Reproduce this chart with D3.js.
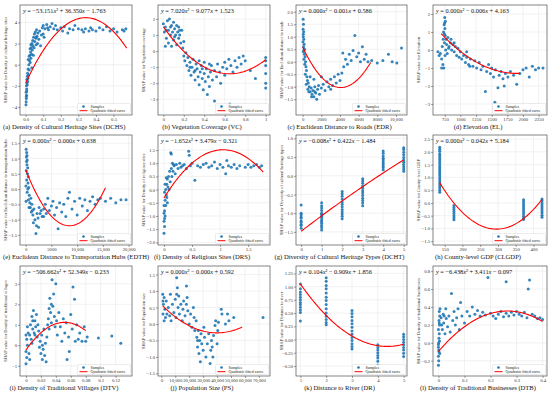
<!DOCTYPE html>
<html>
<head>
<meta charset="utf-8">
<script src="https://cdn.jsdelivr.net/npm/d3@7"></script>
<style>body{margin:0;background:#fff}</style>
</head>
<body>
<svg id="chart" width="550" height="395"></svg>
<script>
// ---------- data ---------- //

var captions = [
  "(a) Density of Cultural Heritage Sites (DCHS)", "(b) Vegetation Coverage (VC)",
  "(c) Euclidean Distance to Roads (EDR)", "(d) Elevation (EL)",
  "(e) Euclidean Distance to Transportation Hubs (EDTH)", "(f) Density of Religious Sites (DRS)",
  "(g) Diversity of Cultural Heritage Types (DCHT)", "(h) County-level GDP (CLGDP)",
  "(i) Density of Traditional Villages (DTV)", "(j) Population Size (PS)",
  "(k) Distance to River (DR)", "(l) Density of Traditional Businesses (DTB)"
];

var yTitles = [
  "SHAP value for Density of cultural heritage sites", "SHAP value for Vegetation coverage",
  "SHAP value for Euclidean distance to roads", "SHAP value for Elevation",
  "SHAP value for Euclidean distance to transportation hubs", "SHAP value for Density of religious sites",
  "SHAP value for Diversity of cultural heritage types", "SHAP value for County-level GDP",
  "SHAP value for Density of traditional villages", "SHAP value for Population size",
  "SHAP value for Distance to river", "SHAP value for Density of traditional businesses"
];

var equations = [
  "y = −53.151x² + 36.350x − 1.763", "y = 7.020x² − 9.077x + 1.523",
  "y = 0.000x² − 0.001x + 0.586", "y = 0.000x² − 0.006x + 4.163",
  "y = 0.000x² − 0.000x + 0.638", "y = −1.652x² + 3.479x − 0.321",
  "y = −0.008x² + 0.422x − 1.484", "y = 0.000x² − 0.042x + 5.184",
  "y = −506.662x² + 52.349x − 0.233", "y = 0.000x² − 0.000x + 0.592",
  "y = 0.104x² − 0.909x + 1.856", "y = −6.438x² + 3.411x − 0.097"
];

// fitted quadratic coefficients [a, b, c] (unrounded ones estimated from the drawn curves)
var coefs = [
  [-53.151, 36.350, -1.763], [7.020, -9.077, 1.523],
  [9.7e-8, -7.92e-4, 0.586], [1.513e-6, -5.75e-3, 4.163],
  [2.544e-8, -4.325e-4, 0.638], [-1.652, 3.479, -0.321],
  [-0.008, 0.422, -1.484], [7.1e-5, -0.042, 5.184],
  [-506.662, 52.349, -0.233], [5.39e-10, -4.31e-5, 0.592],
  [0.104, -0.909, 1.856], [-6.438, 3.411, -0.097]
];
var curveRanges = [
  [0, 0.575], [0, 1], [0, 7300], [690, 1950], [0, 15500], [0, 1.77],
  [0, 5], [136, 424], [0, 0.08], [1000, 58000], [1, 5], [0, 0.4]
];

var xDomains = [
  [-0.032, 0.605], [-0.052, 1.042], [-720, 11190], [562, 2384],
  [-1100, 20650], [-0.107, 1.89], [-0.25, 5.16], [117, 438],
  [-0.008, 0.142], [-2400, 78000], [0.83, 5.13], [-0.021, 0.417]
];
var yDomains = [
  [-4.76, 5.65], [-3.98, 2.875], [-2.13, 2.27], [-3.61, 2.5],
  [-1.83, 1.77], [-2.1, 2.07], [-1.85, 1.09], [-1.65, 2.66],
  [-1.5, 3.87], [-1.58, 1.76], [-0.69, 1.39], [-0.37, 0.857]
];

var xTickVals = [
  [0, 0.1, 0.2, 0.3, 0.4, 0.5], [0, 0.2, 0.4, 0.6, 0.8, 1],
  [0, 2000, 4000, 6000, 8000, 10000], [750, 1000, 1250, 1500, 1750, 2000, 2250],
  [0, 5000, 10000, 15000, 20000], [0, 0.5, 1, 1.5],
  [0, 1, 2, 3, 4, 5], [150, 200, 250, 300, 350, 400],
  [0, 0.02, 0.04, 0.06, 0.08, 0.1, 0.12], [0, 10000, 20000, 30000, 40000, 50000, 60000, 70000],
  [1, 2, 3, 4, 5], [0, 0.1, 0.2, 0.3, 0.4]
];
var xTickLabels = [
  ["0.0", "0.1", "0.2", "0.3", "0.4", "0.5"], ["0", "0.2", "0.4", "0.6", "0.8", "1"],
  ["0", "2000", "4000", "6000", "8000", "10,000"], ["750", "1000", "1250", "1500", "1750", "2000", "2250"],
  ["0", "5000", "10,000", "15,000", "20,000"], ["0", "0.5", "1", "1.5"],
  ["0", "1", "2", "3", "4", "5"], ["150", "200", "250", "300", "350", "400"],
  ["0", "0.02", "0.04", "0.06", "0.08", "0.1", "0.12"],
  ["0", "10,000", "20,000", "30,000", "40,000", "50,000", "60,000", "70,000"],
  ["1", "2", "3", "4", "5"], ["0", "0.1", "0.2", "0.3", "0.4"]
];
var yTickVals = [
  [-4, -2, 0, 2, 4], [-3, -2, -1, 0, 1, 2],
  [-1.5, -1, -0.5, 0, 0.5, 1, 1.5, 2], [-3, -2, -1, 0, 1, 2],
  [-1.5, -1, -0.5, 0, 0.5, 1, 1.5], [-2, -1.5, -1, -0.5, 0, 0.5, 1, 1.5],
  [-1.5, -1, -0.5, 0, 0.5, 1], [-1.5, -1, -0.5, 0, 0.5, 1, 1.5, 2, 2.5],
  [-1, 0, 1, 2, 3], [-1.5, -1, -0.5, 0, 0.5, 1, 1.5],
  [-0.5, -0.25, 0, 0.25, 0.5, 0.75, 1, 1.25], [-0.2, 0, 0.2, 0.4, 0.6, 0.8]
];
var yTickLabels = [
  ["−4", "−2", "0", "2", "4"], ["−3", "−2", "−1", "0", "1", "2"],
  ["−1.5", "−1.0", "−0.5", "0.0", "0.5", "1.0", "1.5", "2.0"], ["−3", "−2", "−1", "0", "1", "2"],
  ["−1.5", "−1.0", "−0.5", "0.0", "0.5", "1.0", "1.5"], ["−2.0", "−1.5", "−1.0", "−0.5", "0.0", "0.5", "1.0", "1.5"],
  ["−1.5", "−1.0", "−0.5", "0.0", "0.5", "1.0"], ["−1.5", "−1.0", "−0.5", "0.0", "0.5", "1.0", "1.5", "2.0", "2.5"],
  ["−1", "0", "1", "2", "3"], ["−1.5", "−1.0", "−0.5", "0.0", "0.5", "1.0", "1.5"],
  ["−0.50", "−0.25", "0.00", "0.25", "0.50", "0.75", "1.00", "1.25"], ["−0.2", "0.0", "0.2", "0.4", "0.6", "0.8"]
];

// samples [x, y]
var pointsA = [[0.002,-3.8],[0.003,-3.5],[0.004,-3.2],[0.005,-2.9],[0.003,-2.6],[0.006,-2.3],[0.005,-2.0],[0.008,-1.7],[0.007,-1.4],[0.01,-1.1],[0.012,-1.6],[0.011,-0.8],[0.014,-0.4],[0.016,-1.0],[0.018,0.0],[0.02,-0.5],[0.022,0.4],[0.024,0.9],[0.026,0.2],[0.028,1.2],[0.03,0.6],[0.032,1.6],[0.034,1.0],[0.036,2.0],[0.038,1.4],[0.04,2.3],[0.042,1.8],[0.045,2.6],[0.048,1.6],[0.05,2.9],[0.052,2.2],[0.055,3.1],[0.058,2.5],[0.06,1.9],[0.062,3.3],[0.065,2.7],[0.068,2.0],[0.07,3.0],[0.075,2.4],[0.08,3.2],[0.085,1.8],[0.09,2.8],[0.095,3.5],[0.1,3.7],[0.105,2.6],[0.11,3.4],[0.12,3.8],[0.125,3.5],[0.13,3.3],[0.14,3.6],[0.15,3.9],[0.16,3.4],[0.17,3.7],[0.18,3.3],[0.2,3.5],[0.21,3.2],[0.22,3.6],[0.24,3.0],[0.25,3.4],[0.27,3.3],[0.28,3.7],[0.3,3.4],[0.32,3.3],[0.33,3.1],[0.34,3.4],[0.36,3.2],[0.37,3.5],[0.38,3.3],[0.4,3.2],[0.42,3.5],[0.44,3.3],[0.46,3.6],[0.48,3.2],[0.5,3.4],[0.52,3.1],[0.55,3.3],[0.56,3.2],[0.57,3.4],[0.1,2.9],[0.035,-0.3],[0.015,0.5],[0.025,1.5],[0.004,-3.0],[0.006,-2.5],[0.009,-1.9],[0.013,-1.3],[0.02,0.8],[0.03,1.9],[0.044,0.9],[0.06,2.6]];
var pointsB = [[0.0,1.7],[0.01,1.2],[0.02,0.3],[0.02,1.5],[0.03,0.8],[0.04,1.9],[0.05,1.3],[0.05,0.5],[0.06,2.0],[0.07,1.0],[0.08,1.6],[0.08,0.3],[0.09,1.2],[0.1,1.8],[0.1,0.7],[0.11,1.4],[0.12,1.0],[0.13,1.6],[0.13,0.4],[0.14,1.2],[0.15,0.8],[0.15,1.5],[0.16,1.0],[0.17,0.5],[0.18,1.3],[0.19,0.2],[0.2,0.6],[0.2,-0.3],[0.21,-0.6],[0.22,-0.1],[0.23,-0.9],[0.24,-0.4],[0.25,-1.2],[0.26,-0.7],[0.27,-1.5],[0.28,-1.0],[0.29,-0.5],[0.3,-1.3],[0.31,-1.8],[0.32,-0.8],[0.33,-1.1],[0.34,-1.6],[0.35,-2.1],[0.36,-1.3],[0.37,-0.9],[0.38,-1.7],[0.39,-2.4],[0.4,-1.4],[0.41,-1.9],[0.42,-1.1],[0.43,-2.7],[0.44,-1.6],[0.45,-2.2],[0.46,-1.3],[0.47,-0.9],[0.48,-1.8],[0.5,-1.2],[0.5,-3.1],[0.52,-1.6],[0.53,-0.8],[0.55,-1.3],[0.56,-2.0],[0.58,-1.0],[0.6,-0.7],[0.6,-1.5],[0.62,-1.1],[0.64,-0.5],[0.65,-3.3],[0.66,-0.9],[0.68,-1.3],[0.7,-0.6],[0.72,-1.0],[0.74,-0.4],[0.76,-0.8],[0.78,-0.3],[0.8,-0.6],[0.85,-1.2],[0.9,-1.7],[1.0,-0.4],[1.0,-0.6],[1.0,-0.9],[1.0,-1.4],[1.0,-2.0],[1.0,-2.3],[0.35,-0.6],[0.4,-0.7],[0.45,-0.8],[0.03,1.3],[0.07,1.5],[0.11,0.9],[0.16,1.3],[0.26,-1.0],[0.31,-1.2],[0.38,-1.1]];
var pointsC = [[50,1.7],[80,1.5],[40,1.3],[100,1.2],[60,1.0],[120,0.9],[30,0.8],[150,0.7],[90,0.6],[200,0.5],[70,0.4],[180,0.3],[250,0.2],[130,0.1],[300,0.0],[220,-0.1],[350,-0.2],[400,-0.35],[280,-0.5],[450,-0.6],[500,-0.75],[380,-0.9],[600,-0.85],[700,-1.0],[550,-1.1],[800,-1.2],[900,-1.05],[1000,-1.3],[1100,-1.15],[1200,-1.4],[1300,-1.0],[1400,-1.25],[1500,-1.5],[1600,-1.1],[1700,-0.95],[1800,-1.3],[2000,-1.05],[2200,-0.9],[2400,-1.15],[2600,-0.8],[2800,-1.0],[3000,-0.7],[3200,-0.95],[3400,-0.6],[3600,-0.85],[3800,-0.5],[4000,-0.75],[4200,-0.45],[4400,-0.2],[4600,0.1],[4800,-0.1],[5000,0.3],[5200,0.05],[5400,0.45],[5600,1.05],[5800,0.2],[6000,0.35],[6200,0.0],[6400,0.6],[6600,0.1],[6800,0.3],[7000,0.0],[7400,0.05],[8000,-0.05],[8600,0.05],[9200,0.3],[9600,0.0],[10100,-0.05],[10600,0.55],[2000,-0.6],[3000,-1.1],[4300,0.35],[1200,-0.7],[800,-0.6],[60,1.1],[110,0.45],[650,-1.2],[950,-1.4],[1300,-1.2]];
var pointsD = [[640,-0.1],[660,-0.3],[680,-0.2],[700,-0.5],[710,0.2],[720,-0.8],[725,0.6],[730,1.0],[735,-1.0],[740,1.4],[745,0.4],[750,1.8],[752,1.2],[755,-0.3],[758,0.8],[760,1.6],[765,0.0],[770,0.6],[780,0.3],[790,-0.2],[800,0.7],[820,0.2],[840,0.4],[860,0.0],[880,0.3],[900,-0.1],[920,0.2],[940,-0.3],[960,0.1],[980,-0.4],[1000,-0.1],[1020,-0.5],[1050,-0.3],[1080,-0.7],[1100,-0.4],[1130,-0.8],[1160,-0.5],[1200,-0.9],[1230,-0.6],[1260,-1.0],[1300,-0.7],[1330,-1.1],[1360,-0.9],[1400,-2.3],[1420,-1.2],[1450,-0.8],[1480,-1.3],[1500,-1.0],[1530,-1.5],[1550,-2.9],[1560,-1.1],[1600,-2.1],[1620,-1.4],[1650,-1.2],[1680,-1.6],[1700,-2.0],[1720,-1.3],[1760,-1.5],[1800,-1.2],[1850,-1.4],[1900,-1.9],[1950,-1.3],[2000,-1.1],[2050,-1.0],[2100,-1.5],[2150,-0.9],[2200,-1.1],[2250,-1.0],[2320,-1.0],[850,0.6],[1100,-0.1],[700,-1.0],[748,1.5],[742,0.9],[810,0.1],[900,0.4],[1150,-0.9]];
var pointsE = [[100,1.3],[200,1.2],[150,1.05],[300,0.95],[250,0.8],[400,0.7],[120,0.6],[350,0.5],[500,0.4],[200,0.3],[450,0.2],[600,0.05],[300,-0.1],[700,-0.2],[550,-0.35],[800,-0.45],[900,-0.6],[1000,-0.3],[1100,-0.75],[1200,-0.5],[1400,-0.85],[1600,-0.65],[1800,-1.0],[2000,-1.45],[2100,-1.2],[2200,-0.8],[2400,-0.95],[2600,-0.6],[2800,-0.8],[3000,-0.7],[3200,-0.9],[3500,-0.65],[3800,-0.5],[4000,-0.8],[4300,-0.3],[4600,-0.7],[5000,-0.55],[5300,-0.4],[5600,-0.85],[6000,-0.6],[6300,-1.3],[6600,-0.45],[7000,-0.75],[7400,-0.5],[7800,-0.9],[8200,-0.3],[8500,-0.1],[9000,-0.65],[9500,-0.4],[10000,-0.85],[10500,-0.3],[11000,-0.55],[11500,-0.35],[12000,-0.7],[12500,-0.4],[13000,-0.25],[13500,-0.5],[14000,-0.35],[14500,-0.3],[15500,-0.4],[16500,-0.3],[17500,-0.45],[18500,-0.35],[19500,-0.35],[1500,-1.1],[2500,-1.25],[3500,-0.9],[50,0.1],[80,-0.4],[180,0.9],[260,1.1],[420,0.0],[650,-0.6],[1300,-0.7]];
var pointsF = [[0.0,-1.65],[0.01,-1.4],[0.0,-1.2],[0.02,-1.0],[0.01,-0.8],[0.03,-0.6],[0.02,-0.4],[0.04,-0.2],[0.03,0.0],[0.05,-0.3],[0.05,0.2],[0.06,0.4],[0.07,0.1],[0.08,0.5],[0.09,0.0],[0.1,0.7],[0.11,0.3],[0.12,1.4],[0.13,0.8],[0.14,0.5],[0.15,1.0],[0.16,0.7],[0.18,0.9],[0.2,0.6],[0.22,0.95],[0.25,0.8],[0.28,1.0],[0.3,0.85],[0.33,0.9],[0.36,0.95],[0.4,0.8],[0.44,1.45],[0.45,1.3],[0.47,0.9],[0.5,1.0],[0.55,0.35],[0.6,0.9],[0.65,0.85],[0.7,0.95],[0.75,1.0],[0.8,0.85],[0.85,0.9],[0.9,1.05],[0.95,0.8],[1.0,0.95],[1.05,0.85],[1.1,0.6],[1.12,1.1],[1.15,0.9],[1.2,0.85],[1.25,0.95],[1.3,0.8],[1.35,0.9],[1.45,0.85],[1.5,0.95],[1.55,0.85],[1.6,0.9],[1.65,0.95],[1.7,0.85],[1.74,0.9],[0.02,0.2],[0.01,-0.1],[0.0,-0.6],[0.04,0.45],[0.06,-0.5],[0.0,-0.9],[0.01,-1.1],[0.13,1.35],[0.17,0.95]];
var stripsG = [
  {x: 0, ys: [-0.78,-1.0,-1.04,-1.1,-1.13,-1.2,-1.24,-1.3,-1.33,-1.4]},
  {x: 1, ys: [-0.72,-0.8,-0.86,-0.93,-1.0,-1.03,-1.08,-1.12,-1.18,-1.22,-1.27,-1.33,-1.38,-1.45]},
  {x: 2, ys: [-0.42,-0.48,-0.55,-0.62,-0.7,-0.76,-0.83,-0.9,-0.96,-1.02,-1.08,-1.15]},
  {x: 3, ys: [-0.08,-0.14,-0.2,-0.27,-0.33,-0.4,-0.46,-0.53,-0.6,-0.66,-0.73,-0.8]},
  {x: 4, ys: [0.66,0.6,0.53,0.47,0.42,0.37,0.32,0.27,0.22,0.16]},
  {x: 5, ys: [0.75,0.7,0.63,0.56,0.49,0.42,0.36,0.3,0.24,0.18,0.12]}
];
var stripsH = [
  {x: 136, ys: [2.18,2.1,2.02,1.93,1.86,1.78,1.7,1.62,1.54,1.46,1.38,1.3,1.22,1.14,1.06,0.98,0.9,0.82,0.74,0.66,0.58,0.5,0.42]},
  {x: 176, ys: [-0.1,-0.18,-0.26,-0.34,-0.42,-0.5,-0.58,-0.66]},
  {x: 372, ys: [0.12,0.04,-0.04,-0.12,-0.2,-0.28,-0.36,-0.44,-0.52,-0.6,-0.65]},
  {x: 424, ys: [0.15,0.08,0.0,-0.08,-0.16,-0.24,-0.32,-0.4,-0.48,-0.56]}
];
var pointsI = [[0.0,-0.9],[0.001,-0.6],[0.0,-0.3],[0.002,0.0],[0.001,0.3],[0.003,0.6],[0.002,0.9],[0.004,-0.4],[0.005,0.5],[0.006,1.0],[0.007,0.3],[0.008,1.4],[0.009,0.8],[0.01,1.7],[0.011,0.6],[0.012,1.2],[0.013,0.9],[0.014,1.5],[0.015,0.4],[0.016,1.0],[0.017,0.7],[0.018,-0.1],[0.019,0.2],[0.02,-0.4],[0.021,0.5],[0.022,-0.7],[0.023,-0.2],[0.024,0.8],[0.025,-0.5],[0.026,0.1],[0.027,-0.8],[0.028,0.4],[0.029,1.0],[0.03,1.3],[0.031,0.8],[0.032,2.3],[0.033,1.6],[0.034,1.1],[0.035,3.2],[0.036,1.9],[0.037,2.5],[0.038,1.4],[0.039,0.9],[0.04,3.0],[0.041,1.2],[0.042,0.5],[0.044,1.6],[0.046,0.9],[0.048,0.2],[0.05,1.3],[0.052,0.6],[0.054,1.1],[0.055,-0.7],[0.057,0.4],[0.058,-0.3],[0.06,1.5],[0.062,0.8],[0.063,2.85],[0.065,2.25],[0.066,0.2],[0.068,1.0],[0.07,0.3],[0.072,0.6],[0.075,0.2],[0.078,0.9],[0.08,0.2],[0.082,0.4],[0.097,0.35],[0.115,0.45],[0.127,0.1],[0.005,-0.7],[0.0,0.5],[0.008,0.1],[0.009,1.2],[0.012,0.5],[0.031,1.8],[0.034,2.0],[0.022,0.0]];
var pointsJ = [[1000,0.9],[1500,0.6],[1200,0.3],[2000,0.8],[2500,0.45],[3000,0.2],[3500,0.7],[5000,0.5],[6000,0.25],[6500,0.9],[7000,0.1],[8000,0.6],[9000,0.35],[10000,0.75],[10500,0.2],[11000,1.4],[11500,1.1],[12000,0.5],[12500,0.85],[13000,0.3],[14000,0.6],[15000,0.1],[15500,0.45],[16000,0.7],[17000,0.25],[18000,1.15],[18500,0.8],[19000,0.4],[20000,0.0],[21000,0.3],[22000,-0.1],[23000,0.5],[24000,-0.2],[25000,0.1],[25500,-0.4],[26000,-0.7],[26500,-0.2],[27000,-0.9],[27500,-0.5],[28000,-1.15],[28500,-0.3],[29000,-0.6],[30000,-0.8],[31000,-0.4],[32000,-1.0],[33000,-0.6],[34000,-0.3],[35000,-1.2],[35500,-0.8],[36000,-0.5],[37000,-1.0],[37500,-0.35],[38500,-0.05],[39000,0.1],[40000,-0.6],[40500,-0.2],[41000,0.05],[43000,0.45],[43500,0.3],[46000,0.0],[47500,0.3],[48500,0.1],[52000,0.2],[73000,0.2],[2000,0.1],[4000,0.3],[23500,0.2],[30500,-0.1],[1200,0.7],[11000,0.9],[18000,0.6],[26000,-0.5],[36500,-0.7]];
var stripsK = [
  {x: 1, ys: [1.05,0.96,0.9,0.85,0.8,0.75,0.7,0.66,0.61,0.56,0.51,0.35]},
  {x: 2, ys: [1.17,1.1,1.02,0.96,0.88,0.8,0.74,0.66,0.58,0.5,0.44,0.38,0.32,0.28]},
  {x: 3, ys: [0.55,0.49,0.43,0.36,0.3,0.23,0.16,0.1,0.04,-0.02,-0.08,-0.13,-0.18]},
  {x: 4, ys: [-0.1,-0.15,-0.2,-0.25,-0.3,-0.35,-0.41,-0.48]},
  {x: 5, ys: [0.1,0.05,0.0,-0.05,-0.1,-0.15,-0.2,-0.26,-0.32]}
];
var pointsL = [[0.0,-0.25],[0.001,-0.2],[0.0,-0.15],[0.002,-0.1],[0.0,-0.05],[0.001,0.0],[0.0,-0.02],[0.002,0.05],[0.003,0.1],[0.0,0.15],[0.004,0.2],[0.002,0.25],[0.005,0.3],[0.003,0.35],[0.006,0.38],[0.01,0.28],[0.015,0.15],[0.018,0.32],[0.02,0.22],[0.025,0.1],[0.028,0.38],[0.03,0.27],[0.035,0.18],[0.04,0.3],[0.045,0.12],[0.05,0.55],[0.055,0.25],[0.06,0.35],[0.065,0.2],[0.07,0.28],[0.075,0.38],[0.08,0.15],[0.085,0.45],[0.09,0.3],[0.1,0.22],[0.11,0.35],[0.12,0.3],[0.13,0.4],[0.14,0.32],[0.15,0.36],[0.16,0.3],[0.17,0.34],[0.18,0.31],[0.19,0.73],[0.2,0.33],[0.21,0.3],[0.22,0.27],[0.23,0.32],[0.24,0.35],[0.25,0.29],[0.26,0.68],[0.26,0.33],[0.27,0.3],[0.28,0.34],[0.29,0.31],[0.3,0.35],[0.31,0.32],[0.32,0.3],[0.33,0.34],[0.34,0.28],[0.345,0.6],[0.35,0.7],[0.36,0.32],[0.37,0.3],[0.38,0.27],[0.39,0.28],[0.4,0.26],[0.005,-0.12],[0.004,0.02],[0.001,-0.08],[0.003,0.22],[0.012,0.2],[0.022,0.3]];

function fromStrips(strips) {
  var out = [];
  strips.forEach(function(s){ s.ys.forEach(function(v){ out.push([s.x, v]); }); });
  return out;
}
var allPoints = [pointsA, pointsB, pointsC, pointsD, pointsE, pointsF,
  fromStrips(stripsG), fromStrips(stripsH), pointsI, pointsJ, fromStrips(stripsK), pointsL];

// ---------- drawing ---------- //

var svg = d3.select("#chart");
var serif = "'Liberation Serif', 'DejaVu Serif', serif";
var colLeft = [20, 158, 296, 433];
var colWidth = [112, 112, 111, 114];
var rowTop = [5, 135, 266];
var plotH = 110;

svg.append("rect").attr("width", 550).attr("height", 395).attr("fill", "#fff");

captions.forEach(function(cap, i) {
  var left = colLeft[i % 4], w = colWidth[i % 4];
  var top = rowTop[Math.floor(i / 4)], h = plotH;

  var x = d3.scaleLinear().domain(xDomains[i]).range([left, left + w]);
  var y = d3.scaleLinear().domain(yDomains[i]).range([top + h, top]);

  var g = svg.append("g");

  // grid
  g.selectAll(".gx").data(xTickVals[i]).enter().append("line")
      .attr("x1", function(d){ return x(d); }).attr("x2", function(d){ return x(d); })
      .attr("y1", top).attr("y2", top + h)
      .attr("stroke", "#e4e4e4").attr("stroke-width", 0.5);
  g.selectAll(".gy").data(yTickVals[i]).enter().append("line")
      .attr("y1", function(d){ return y(d); }).attr("y2", function(d){ return y(d); })
      .attr("x1", left).attr("x2", left + w)
      .attr("stroke", "#e4e4e4").attr("stroke-width", 0.5);

  // samples
  g.selectAll(".pt").data(allPoints[i]).enter().append("circle")
      .attr("cx", function(d){ return x(d[0]); })
      .attr("cy", function(d){ return y(d[1]); })
      .attr("r", 1.5)
      .attr("fill", "#1f77b4")
      .attr("fill-opacity", 0.9);

  // fitted curve
  var c = coefs[i], r = curveRanges[i];
  var xs = d3.range(61).map(function(k){ return r[0] + (r[1] - r[0]) * k / 60; });
  var line = d3.line()
      .x(function(d){ return x(d); })
      .y(function(d){ return y(c[0] * d * d + c[1] * d + c[2]); });
  g.append("path").datum(xs).attr("d", line)
      .attr("fill", "none").attr("stroke", "#ff0000").attr("stroke-width", 1.1);

  // axes
  var xl = xTickLabels[i], yl = yTickLabels[i];
  var xAxis = g.append("g").attr("transform", "translate(0," + (top + h) + ")")
      .call(d3.axisBottom(x).tickValues(xTickVals[i])
        .tickFormat(function(d, j){ return xl[j]; }).tickSize(2).tickPadding(1));
  var yAxis = g.append("g").attr("transform", "translate(" + left + ",0)")
      .call(d3.axisLeft(y).tickValues(yTickVals[i])
        .tickFormat(function(d, j){ return yl[j]; }).tickSize(2).tickPadding(1));
  [xAxis, yAxis].forEach(function(a){
    a.select(".domain").remove();
    a.selectAll("line").attr("stroke", "#444").attr("stroke-width", 0.5);
    a.selectAll("text").attr("font-family", serif).attr("font-size", "4.7px").attr("fill", "#333");
  });

  // frame
  g.append("rect").attr("x", left).attr("y", top).attr("width", w).attr("height", h)
      .attr("fill", "none").attr("stroke", "#333").attr("stroke-width", 0.6);

  // equation
  var eq = g.append("text").attr("x", left + 3).attr("y", top + 8)
      .attr("font-family", serif).attr("font-size", "6.3px").attr("fill", "#111");
  equations[i].split(/([xy])/).forEach(function(part){
    if (!part) return;
    eq.append("tspan").attr("font-style", (part === "x" || part === "y") ? "italic" : "normal").text(part);
  });

  // legend
  var lw = 53, lh = 10, lx = left + w - lw - 1.5, ly = top + h - lh - 1.5;
  g.append("rect").attr("x", lx).attr("y", ly).attr("width", lw).attr("height", lh)
      .attr("rx", 1).attr("fill", "#fff").attr("fill-opacity", 0.9)
      .attr("stroke", "#cfcfcf").attr("stroke-width", 0.4);
  g.append("circle").attr("cx", lx + 6).attr("cy", ly + 3).attr("r", 1.3).attr("fill", "#1f77b4");
  g.append("line").attr("x1", lx + 2).attr("x2", lx + 10).attr("y1", ly + 7.2).attr("y2", ly + 7.2)
      .attr("stroke", "#ff0000").attr("stroke-width", 1);
  g.append("text").attr("x", lx + 13).attr("y", ly + 4.4).text("Samples")
      .attr("font-family", serif).attr("font-size", "4px").attr("fill", "#222");
  g.append("text").attr("x", lx + 13).attr("y", ly + 8.6).text("Quadratic fitted curve")
      .attr("font-family", serif).attr("font-size", "4px").attr("fill", "#222");

  // y-axis title
  g.append("text")
      .attr("transform", "translate(" + (left - 13) + "," + (top + h / 2) + ") rotate(-90)")
      .attr("text-anchor", "middle")
      .attr("font-family", serif).attr("font-size", "4.4px").attr("fill", "#333")
      .text(yTitles[i]);

  // caption, kept inside the page
  var capText = g.append("text").attr("y", top + h + 13.5)
      .attr("text-anchor", "middle")
      .attr("font-family", serif).attr("font-size", "6.6px").attr("fill", "#111")
      .text(cap);
  var cw = capText.node().getComputedTextLength();
  var cx = Math.max(left + w / 2 - 12, cw / 2 + 3);
  capText.attr("x", cx);
});
</script>
</body>
</html>
